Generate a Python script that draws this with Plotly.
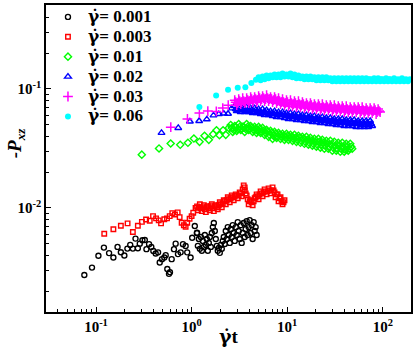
import plotly.graph_objects as go

# ---- data (gamma_dot * t, -P_xz) ----
t_001 = [0.0755, 0.0908, 0.106, 0.121, 0.137, 0.152, 0.168, 0.182, 0.198, 0.213, 0.228, 0.243, 0.259, 0.274,
         0.287, 0.306, 0.324, 0.337, 0.359, 0.379, 0.398, 0.421, 0.446, 0.464, 0.49, 0.518, 0.536, 0.557, 0.58,
         0.594, 0.619, 0.654, 0.681, 0.72, 0.768, 0.812, 0.866, 0.9, 0.976, 1.014, 1.08, 1.14,
         1.136, 1.163, 1.191, 1.220, 1.250, 1.280, 1.311, 1.343, 1.375, 1.409, 1.443, 1.478, 1.514, 1.551, 1.589,
         1.627, 1.667, 1.708, 1.749, 1.791, 1.835, 1.879, 1.925, 1.972, 2.020, 2.069, 2.118, 2.170, 2.223, 2.277,
         2.332, 2.389, 2.447, 2.506, 2.567, 2.630, 2.693, 2.758, 2.825, 2.894, 2.964, 3.037, 3.110, 3.185, 3.263,
         3.342, 3.423, 3.506, 3.591, 3.678, 3.767, 3.859, 3.953, 4.049, 4.147, 4.247, 4.350, 4.457, 4.565, 4.675,
         4.788]
p_001 = [0.00273, 0.00315, 0.00396, 0.00464, 0.00417, 0.00383, 0.0047, 0.00424, 0.00398, 0.00455, 0.00489,
         0.00455, 0.00552, 0.00458, 0.00501, 0.00535, 0.00538, 0.0045, 0.00496, 0.0047, 0.00435, 0.00414, 0.00423,
         0.00348, 0.00371, 0.00383, 0.00401, 0.00307, 0.00279, 0.00288, 0.00371, 0.0045, 0.00501, 0.00409,
         0.00423, 0.00496, 0.00479, 0.00423, 0.00383, 0.00562, 0.00704, 0.00619,
         0.00615, 0.00480, 0.00548, 0.00453, 0.00570, 0.00436, 0.00528, 0.00470, 0.00592, 0.00489, 0.00548,
         0.00436, 0.00508, 0.00570, 0.00470, 0.00615, 0.00690, 0.00746, 0.00639, 0.00548, 0.00480, 0.00436,
         0.00461, 0.00419, 0.00489, 0.00453, 0.00528, 0.00570, 0.00498, 0.00639, 0.00548, 0.00690, 0.00592,
         0.00508, 0.00665, 0.00570, 0.00717, 0.00615, 0.00528, 0.00690, 0.00592, 0.00760, 0.00639, 0.00548,
         0.00717, 0.00508, 0.00615, 0.00746, 0.00570, 0.00665, 0.00775, 0.00592, 0.00690, 0.00790, 0.00615,
         0.00717, 0.00548, 0.00760, 0.00639, 0.00690, 0.00592]

t_003 = [0.122, 0.152, 0.182, 0.214, 0.243, 0.274, 0.302, 0.334, 0.365, 0.395, 0.425, 0.453, 0.479, 0.518,
         0.553, 0.59, 0.628, 0.67, 0.715, 0.75, 0.787, 0.83, 0.866, 0.9, 0.953, 1.0, 1.04, 1.1, 1.14,
         1.163, 1.220, 1.280, 1.343, 1.409, 1.478, 1.551, 1.627, 1.708, 1.791, 1.879, 1.972, 2.069, 2.170,
         2.277, 2.389, 2.506, 2.630, 2.758, 2.894, 3.037, 3.185, 3.342, 3.423, 3.506, 3.591, 3.678, 3.859,
         3.953, 4.147, 4.350, 4.565, 4.788, 5.023, 5.271, 5.530, 5.801, 6.086, 6.387, 6.699, 7.030, 7.375,
         7.553, 7.925, 8.117, 8.516, 8.935, 9.373,
         1.191, 1.250, 1.311, 1.375, 1.443, 1.514, 1.589, 1.667, 1.749, 1.835, 1.925, 2.020, 2.118, 2.223,
         2.332, 2.447, 2.567, 2.693, 2.825, 2.964, 3.110, 3.263, 3.591, 3.767, 4.049, 4.247, 4.457, 4.675,
         4.904, 5.145, 5.399, 5.664, 5.942, 6.234, 6.542, 6.862, 7.201, 7.737, 8.314, 8.723, 9.152]
p_003 = [0.00607, 0.00661, 0.00708, 0.00741, 0.00627, 0.00708, 0.00764, 0.008, 0.00779, 0.00853, 0.00817,
         0.00786, 0.00741, 0.00804, 0.00817, 0.00853, 0.00904, 0.00881, 0.00917, 0.00837, 0.00751, 0.00715,
         0.00695, 0.00751, 0.00812, 0.00853, 0.00912, 0.01, 0.0103,
         0.00957, 0.01074, 0.00939, 0.01053, 0.00921, 0.01033, 0.00957, 0.01074, 0.00939, 0.01053, 0.00975,
         0.01115, 0.01013, 0.01159, 0.01074, 0.01228, 0.01115, 0.01276, 0.01159, 0.01301, 0.01205, 0.01352,
         0.01252, 0.01432, 0.01546, 0.01488, 0.01326, 0.01182, 0.01074, 0.01159, 0.01053, 0.01205, 0.01301,
         0.01182, 0.01378, 0.01252, 0.01432, 0.01301, 0.01459, 0.01326, 0.01488, 0.01352, 0.01228, 0.01301,
         0.01137, 0.01228, 0.01074, 0.01159,
         0.01013, 0.00994, 0.01013, 0.00975, 0.01013, 0.00994, 0.01033, 0.00994, 0.01033, 0.01013, 0.01053,
         0.01074, 0.01094, 0.01137, 0.01159, 0.01182, 0.01205, 0.01228, 0.01252, 0.01276, 0.01276, 0.01326,
         0.01405, 0.01276, 0.01137, 0.01115, 0.01137, 0.01228, 0.01252, 0.01301, 0.01326, 0.01352, 0.01378,
         0.01378, 0.01405, 0.01405, 0.01405, 0.01301, 0.01205, 0.01137, 0.01115]

t_01 = [0.3013, 0.4564, 0.6043, 0.7606, 0.9151, 1.057, 1.211, 1.366, 1.514, 1.679, 1.822, 1.957, 2.134, 2.277,
        2.447, 2.567, 2.693, 2.825, 2.964, 3.110, 3.263, 3.423, 3.591, 3.767, 3.953, 4.147, 4.350, 4.565, 4.788,
        5.023, 5.271, 5.530, 5.801, 6.086, 6.387, 6.699, 7.030, 7.375, 7.737, 8.117, 8.516, 8.935, 9.373, 9.833,
        10.32, 10.82, 11.36, 11.91, 12.50, 13.11, 13.76, 14.43, 15.14, 15.89, 16.67, 17.49, 18.34, 19.25, 20.20,
        21.19, 22.23, 23.32, 24.47, 25.67, 26.93, 28.25, 29.65, 31.10, 32.63, 34.23, 35.91, 37.67, 39.53, 41.47,
        43.50, 45.65, 47.88,
        2.630, 2.758, 2.894, 3.037, 3.185, 3.342, 3.506, 3.678, 3.859, 4.049, 4.247, 4.457, 4.675, 4.904, 5.145,
        5.399, 5.664, 5.942, 6.234, 6.542, 6.862, 7.201, 7.553, 7.925, 8.314, 8.723, 9.152, 9.601, 10.07, 10.57,
        11.08, 11.64, 12.20, 12.80, 13.43, 14.09, 14.78, 15.51, 16.28, 17.07, 17.91, 18.79, 19.72, 20.69, 21.71,
        22.77, 23.89, 25.06, 26.29, 27.58, 28.94, 30.37, 31.86, 33.42, 35.06, 36.78, 38.59, 40.49, 42.48, 44.56,
        46.76]
p_01 = [0.02803, 0.03162, 0.0348, 0.03394, 0.03528, 0.03831, 0.03596, 0.04035, 0.03737, 0.04169, 0.045, 0.0409,
        0.045, 0.04114, 0.04705,
        0.04983, 0.04357, 0.04888, 0.04441, 0.05079, 0.04527, 0.04795, 0.04357, 0.05079, 0.04527, 0.04888,
        0.04357, 0.04795, 0.04274, 0.04795, 0.04274, 0.04704, 0.04113, 0.04527, 0.03958, 0.04441, 0.03809,
        0.04357, 0.03883, 0.04274, 0.03809, 0.04193, 0.03737, 0.04193, 0.03737, 0.04113, 0.03666, 0.04113,
        0.03596, 0.04035, 0.03528, 0.03958, 0.03461, 0.03958, 0.03395, 0.03883, 0.03331, 0.03809, 0.03267,
        0.03809, 0.03205, 0.03737, 0.03144, 0.03666, 0.03144, 0.03666, 0.03026, 0.03596, 0.03026, 0.03528,
        0.02969, 0.03528, 0.02969, 0.03461, 0.03026, 0.03461, 0.03144,
        0.04704, 0.04527, 0.04795, 0.04615, 0.04795, 0.04615, 0.04795, 0.04615, 0.04795, 0.04615, 0.04704,
        0.04527, 0.04615, 0.04441, 0.04615, 0.04357, 0.04441, 0.04274, 0.04357, 0.04113, 0.04274, 0.04035,
        0.04193, 0.03958, 0.04113, 0.03958, 0.04035, 0.03883, 0.04035, 0.03883, 0.03958, 0.03809, 0.03883,
        0.03737, 0.03883, 0.03666, 0.03809, 0.03596, 0.03737, 0.03528, 0.03666, 0.03461, 0.03596, 0.03395,
        0.03596, 0.03395, 0.03528, 0.03331, 0.03461, 0.03267, 0.03395, 0.03205, 0.03331, 0.03144, 0.03331,
        0.03144, 0.03267, 0.03085, 0.03267, 0.03144, 0.03267]

t_02 = [0.4845, 0.725, 0.96, 1.2, 1.443, 1.695, 1.925, 2.17, 2.406, 2.63,
        2.825, 2.964, 3.110, 3.263, 3.423, 3.591, 3.767, 3.953, 4.147, 4.350, 4.565, 4.788, 5.023, 5.271, 5.530,
        5.801, 6.086, 6.387, 6.699, 7.030, 7.375, 7.737, 8.117, 8.516, 8.935, 9.373, 9.833, 10.32, 10.82, 11.36,
        11.91, 12.50, 13.11, 13.76, 14.43, 15.14, 15.89, 16.67, 17.49, 18.34, 19.25, 20.20, 21.19, 22.23, 23.32,
        24.47, 25.67, 26.93, 28.25, 29.65, 31.10, 32.63, 34.23, 35.91, 37.67, 39.53, 41.47, 43.50, 45.65, 47.88,
        50.23, 52.71, 55.30, 58.01, 60.86, 63.87, 66.99, 70.30, 73.75, 77.37,
        2.894, 3.037, 3.185, 3.342, 3.506, 3.678, 3.859, 4.049, 4.247, 4.457, 4.675, 4.904, 5.145, 5.399, 5.664,
        5.942, 6.234, 6.542, 6.862, 7.201, 7.553, 7.925, 8.314, 8.723, 9.152, 9.601, 10.07, 10.57, 11.08, 11.64,
        12.20, 12.80, 13.43, 14.09, 14.78, 15.51, 16.28, 17.07, 17.91, 18.79, 19.72, 20.69, 21.71, 22.77, 23.89,
        25.06, 26.29, 27.58, 28.94, 30.37, 31.86, 33.42, 35.06, 36.78, 38.59, 40.49, 42.48, 44.56, 46.76, 49.04,
        51.45, 53.99, 56.64, 59.42, 62.34, 65.42, 68.62, 72.01, 75.54]
p_02 = [0.04274, 0.04704, 0.05329, 0.0538, 0.05559, 0.06002, 0.06154, 0.06214, 0.0619, 0.06866,
        0.07175, 0.06519, 0.07039, 0.06395, 0.06905, 0.06395, 0.07039, 0.06395, 0.06905, 0.06273, 0.06905,
        0.06273, 0.06774, 0.06154, 0.06774, 0.06037, 0.06645, 0.06037, 0.06519, 0.05922, 0.06519, 0.05810,
        0.06395, 0.05810, 0.06395, 0.05699, 0.06273, 0.05591, 0.06273, 0.05591, 0.06154, 0.05485, 0.06154,
        0.05485, 0.06037, 0.05380, 0.06037, 0.05380, 0.05922, 0.05278, 0.05922, 0.05278, 0.05810, 0.05178,
        0.05810, 0.05178, 0.05699, 0.05079, 0.05699, 0.05079, 0.05591, 0.04983, 0.05591, 0.04983, 0.05591,
        0.04888, 0.05485, 0.04888, 0.05485, 0.04888, 0.05485, 0.04795, 0.05380, 0.04795, 0.05380, 0.04795,
        0.05380, 0.04795, 0.05380, 0.04888,
        0.06774, 0.06645, 0.06774, 0.06645, 0.06774, 0.06519, 0.06645, 0.06519, 0.06645, 0.06395, 0.06645,
        0.06395, 0.06519, 0.06273, 0.06395, 0.06273, 0.06395, 0.06154, 0.06273, 0.06154, 0.06273, 0.06037,
        0.06154, 0.06037, 0.06154, 0.05922, 0.06037, 0.05810, 0.05922, 0.05810, 0.05922, 0.05699, 0.05810,
        0.05699, 0.05810, 0.05591, 0.05699, 0.05591, 0.05699, 0.05485, 0.05591, 0.05485, 0.05591, 0.05380,
        0.05485, 0.05380, 0.05485, 0.05278, 0.05380, 0.05278, 0.05380, 0.05178, 0.05380, 0.05178, 0.05278,
        0.05178, 0.05278, 0.05079, 0.05278, 0.05079, 0.05178, 0.05079, 0.05178, 0.04983, 0.05178, 0.04983,
        0.05178, 0.04983, 0.05079]

t_03 = [0.6057, 0.9043, 1.206, 1.478, 1.813, 2.118, 2.417,
        2.825, 2.964, 3.110, 3.263, 3.423, 3.591, 3.767, 3.953, 4.147, 4.350, 4.565, 4.788, 5.023, 5.271, 5.530,
        5.801, 6.086, 6.387, 6.699, 7.030, 7.375, 7.737, 8.117, 8.516, 8.935, 9.373, 9.833, 10.32, 10.82, 11.36,
        11.91, 12.50, 13.11, 13.76, 14.43, 15.14, 15.89, 16.67, 17.49, 18.34, 19.25, 20.20, 21.19, 22.23, 23.32,
        24.47, 25.67, 26.93, 28.25, 29.65, 31.10, 32.63, 34.23, 35.91, 37.67, 39.53, 41.47, 43.50, 45.65, 47.88,
        50.23, 52.71, 55.30, 58.01, 60.86, 63.87, 66.99, 70.30, 73.75, 77.37, 81.17, 85.16, 89.35, 93.73,
        2.894, 3.037, 3.185, 3.342, 3.506, 3.678, 3.859, 4.049, 4.247, 4.457, 4.675, 4.904, 5.145, 5.399, 5.664,
        5.942, 6.234, 6.542, 6.862, 7.201, 7.553, 7.925, 8.314, 8.723, 9.152, 9.601, 10.07, 10.57, 11.08, 11.64,
        12.20, 12.80, 13.43, 14.09, 14.78, 15.51, 16.28, 17.07, 17.91, 18.79, 19.72, 20.69, 21.71, 22.77, 23.89,
        25.06, 26.29, 27.58, 28.94, 30.37, 31.86, 33.42, 35.06, 36.78, 38.59, 40.49, 42.48, 44.56, 46.76, 49.04,
        51.45, 53.99, 56.64, 59.42, 62.34, 65.42, 68.62, 72.01, 75.54, 79.25, 83.14, 87.23, 91.52]
p_03 = [0.04777, 0.05591, 0.06273, 0.06519, 0.06481, 0.06905, 0.07314,
        0.08050, 0.07314, 0.08206, 0.07456, 0.08366, 0.07600, 0.08366, 0.07600, 0.08527, 0.07747, 0.08527,
        0.07747, 0.08693, 0.07898, 0.08693, 0.07898, 0.08861, 0.07898, 0.08527, 0.07747, 0.08527, 0.07600,
        0.08366, 0.07456, 0.08206, 0.07314, 0.08050, 0.07175, 0.08050, 0.07175, 0.07898, 0.07039, 0.07898,
        0.07039, 0.07747, 0.06905, 0.07600, 0.06905, 0.07600, 0.06774, 0.07456, 0.06774, 0.07456, 0.06645,
        0.07456, 0.06645, 0.07314, 0.06645, 0.07314, 0.06519, 0.07314, 0.06519, 0.07175, 0.06519, 0.07175,
        0.06395, 0.07175, 0.06395, 0.07039, 0.06395, 0.07039, 0.06395, 0.07039, 0.06273, 0.07039, 0.06273,
        0.06905, 0.06273, 0.06905, 0.06273, 0.06905, 0.06154, 0.06774, 0.06395,
        0.07747, 0.07600, 0.07898, 0.07747, 0.07898, 0.07747, 0.08050, 0.07898, 0.08206, 0.08050, 0.08206,
        0.08050, 0.08366, 0.08206, 0.08366, 0.08206, 0.08366, 0.08206, 0.08206, 0.08050, 0.08206, 0.07898,
        0.07898, 0.07747, 0.07747, 0.07600, 0.07747, 0.07456, 0.07600, 0.07456, 0.07600, 0.07314, 0.07456,
        0.07314, 0.07456, 0.07175, 0.07314, 0.07175, 0.07314, 0.07039, 0.07175, 0.07039, 0.07175, 0.06905,
        0.07039, 0.06905, 0.07039, 0.06905, 0.07039, 0.06774, 0.06905, 0.06774, 0.06905, 0.06774, 0.06905,
        0.06645, 0.06774, 0.06645, 0.06774, 0.06645, 0.06774, 0.06645, 0.06774, 0.06519, 0.06645, 0.06519,
        0.06645, 0.06519, 0.06645, 0.06519, 0.06645, 0.06395, 0.06519]

t_06 = [1.206, 1.805, 2.406, 3.037, 3.652, 4.217, 4.709,
        5.023, 5.271, 5.530, 5.801, 6.086, 6.387, 6.699, 7.030, 7.375, 7.737, 8.117, 8.516, 8.935, 9.373, 9.833,
        10.32, 10.82, 11.36, 11.91, 12.50, 13.11, 13.76, 14.43, 15.14, 15.89, 16.67, 17.49, 18.34, 19.25, 20.20,
        21.19, 22.23, 23.32, 24.47, 25.67, 26.93, 28.25, 29.65, 31.10, 32.63, 34.23, 35.91, 37.67, 39.53, 41.47,
        43.50, 45.65, 47.88, 50.23, 52.71, 55.30, 58.01, 60.86, 63.87, 66.99, 70.30, 73.75, 77.37, 81.17, 85.16,
        89.35, 93.73, 98.33, 103.2, 108.2, 113.6, 119.1, 125.0, 131.1, 137.6, 144.3, 151.4, 158.9, 166.7, 174.9,
        183.4, 192.5,
        5.145, 5.399, 5.664, 5.942, 6.234, 6.542, 6.862, 7.201, 7.553, 7.925, 8.314, 8.723, 9.152, 9.601, 10.07,
        10.57, 11.08, 11.64, 12.20, 12.80, 13.43, 14.09, 14.78, 15.51, 16.28, 17.07, 17.91, 18.79, 19.72, 20.69,
        21.71, 22.77, 23.89, 25.06, 26.29, 27.58, 28.94, 30.37, 31.86, 33.42, 35.06, 36.78, 38.59, 40.49, 42.48,
        44.56, 46.76, 49.04, 51.45, 53.99, 56.64, 59.42, 62.34, 65.42, 68.62, 72.01, 75.54, 79.25, 83.14, 87.23,
        91.52, 96.01, 100.7, 105.7, 110.8, 116.4, 122.0, 128.0, 134.3, 140.9, 147.8, 155.1, 162.8, 170.8, 179.2,
        187.9]
p_06 = [0.07039, 0.0881, 0.09848, 0.1023, 0.1033, 0.1122, 0.1198,
        0.1252, 0.1182, 0.1276, 0.1205, 0.1301, 0.1228, 0.1301, 0.1252, 0.1326, 0.1252, 0.1326, 0.1252, 0.1351,
        0.1276, 0.1326, 0.1276, 0.1351, 0.1252, 0.1326, 0.1228, 0.1301, 0.1228, 0.1276, 0.1205, 0.1276, 0.1205,
        0.1276, 0.1205, 0.1252, 0.1182, 0.1252, 0.1182, 0.1252, 0.1182, 0.1252, 0.1182, 0.1228, 0.1159, 0.1228,
        0.1159, 0.1228, 0.1159, 0.1228, 0.1159, 0.1228, 0.1159, 0.1228, 0.1159, 0.1228, 0.1159, 0.1228, 0.1159,
        0.1228, 0.1159, 0.1228, 0.1159, 0.1205, 0.1159, 0.1228, 0.1159, 0.1228, 0.1159, 0.1205, 0.1159, 0.1228,
        0.1159, 0.1205, 0.1159, 0.1228, 0.1159, 0.1205, 0.1159, 0.1228, 0.1159, 0.1205, 0.1159, 0.1205,
        0.1228, 0.1228, 0.1252, 0.1252, 0.1252, 0.1276, 0.1276, 0.1276, 0.1276, 0.1301, 0.1301, 0.1301, 0.1301,
        0.1301, 0.1301, 0.1301, 0.1301, 0.1276, 0.1276, 0.1276, 0.1252, 0.1252, 0.1252, 0.1252, 0.1228, 0.1228,
        0.1228, 0.1228, 0.1228, 0.1228, 0.1228, 0.1205, 0.1205, 0.1205, 0.1205, 0.1205, 0.1182, 0.1205, 0.1182,
        0.1205, 0.1182, 0.1205, 0.1182, 0.1205, 0.1182, 0.1205, 0.1182, 0.1205, 0.1182, 0.1205, 0.1182, 0.1205,
        0.1182, 0.1205, 0.1182, 0.1205, 0.1182, 0.1205, 0.1182, 0.1205, 0.1182, 0.1205, 0.1182, 0.1205, 0.1182,
        0.1205]

rates = ["0.001", "0.003", "0.01", "0.02", "0.03", "0.06"]
x_tickvals = [0.1, 1, 10, 100]
x_ticktext = ["10<sup>-1</sup>", "10<sup>0</sup>", "10<sup>1</sup>", "10<sup>2</sup>"]
y_tickvals = [0.01, 0.1]
y_ticktext = ["10<sup>-2</sup>", "10<sup>-1</sup>"]

# ---- styling ----
GAMMA_DOT = "<span style='font-family:DejaVu Serif'>γ̇</span>"
styles = [
    dict(symbol="circle-open", size=5, color="#000000", lw=1.4),
    dict(symbol="square-open", size=4.5, color="#FF0000", lw=1.4),
    dict(symbol="diamond-open", size=5.5, color="#00FF00", lw=1.4),
    dict(symbol="triangle-up-open", size=6, color="#0000FF", lw=1.4),
    dict(symbol="cross-thin-open", size=7, color="#FF00FF", lw=1.5),
    dict(symbol="circle", size=6, color="#00FFFF", lw=0),
]
xs = [t_001, t_003, t_01, t_02, t_03, t_06]
ys = [p_001, p_003, p_01, p_02, p_03, p_06]

fig = go.Figure()
for rate, x, y, st in zip(rates, xs, ys, styles):
    fig.add_trace(go.Scatter(
        x=x, y=y, mode="markers",
        name="<span style='font-size:17px'><b>" + GAMMA_DOT + "= " + rate + "</b></span>",
        marker=dict(symbol=st["symbol"], size=st["size"], color=st["color"],
                    line=dict(color=st["color"], width=st["lw"])),
    ))

minor_x = [k * d for d in (0.01, 0.1, 1, 10, 100) for k in range(2, 10) if 0.03 <= k * d <= 197]
minor_y = [k * d for d in (0.001, 0.01, 0.1) for k in range(2, 10) if 0.00134 <= k * d <= 0.5]

font_family = "Liberation Serif"
axis_common = dict(
    showline=True, linecolor="black", linewidth=1.6, mirror=True,
    ticks="inside", ticklen=5, tickwidth=1.3, tickcolor="black",
    showgrid=False, zeroline=False,
    tickfont=dict(family=font_family, size=15, color="black"),
)

fig.update_layout(
    width=415, height=348,
    margin=dict(l=46, r=2, t=2, b=36),
    paper_bgcolor="white", plot_bgcolor="white",
    xaxis=dict(type="log", range=[-1.523, 2.295], tickmode="array", tickvals=x_tickvals,
               ticktext=["<b>" + t + "</b>" for t in x_ticktext],
               minor=dict(tickmode="array", tickvals=minor_x, ticks="inside", ticklen=3,
                          tickwidth=1, tickcolor="black"),
               **axis_common),
    yaxis=dict(type="log", range=[-2.875, -0.294], tickmode="array", tickvals=y_tickvals,
               ticktext=["<b>" + t + "</b>" for t in y_ticktext],
               minor=dict(tickmode="array", tickvals=minor_y, ticks="inside", ticklen=3,
                          tickwidth=1, tickcolor="black"),
               **axis_common),
    legend=dict(x=0.0054, y=1.01, xanchor="left", yanchor="top",
                font=dict(family=font_family, size=13, color="black"),
                bgcolor="rgba(0,0,0,0)", borderwidth=0, tracegroupgap=0),
    showlegend=True,
    annotations=[
        dict(text="<b><i>-P<sub>xz</sub></i></b>", xref="paper", yref="paper",
             x=-0.082, y=0.55, xanchor="center", yanchor="middle", textangle=-90,
             showarrow=False, font=dict(family=font_family, size=19, color="black")),
        dict(text="<b>" + GAMMA_DOT + "t</b>", xref="paper", yref="paper",
             x=0.5, y=-0.078, xanchor="center", yanchor="middle",
             showarrow=False, font=dict(family=font_family, size=19, color="black")),
    ],
)

fig.write_html("out.html", config={"displayModeBar": False},
               post_script="document.body.style.margin='0';document.body.style.padding='0';")
